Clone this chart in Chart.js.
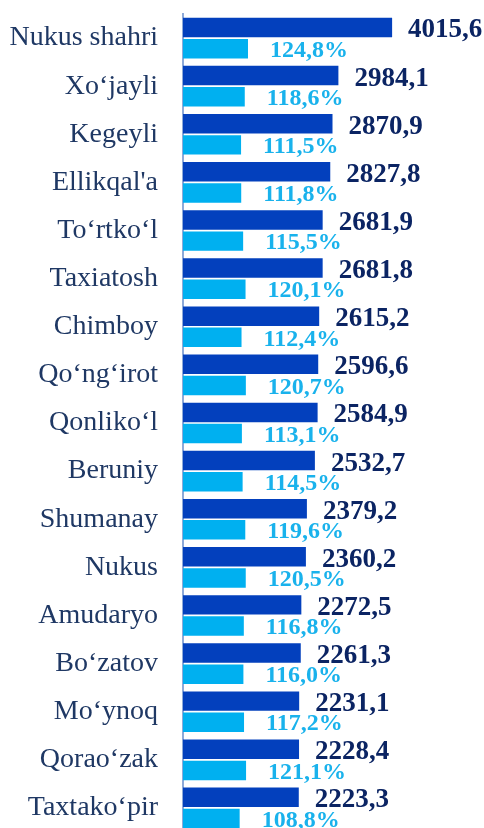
<!DOCTYPE html>
<html>
<head>
<meta charset="utf-8">
<script src="https://cdn.jsdelivr.net/npm/chart.js@4/dist/chart.umd.min.js"></script>
<style>
  html, body { margin: 0; padding: 0; background: #ffffff; overflow: hidden; }
  canvas { display: block; }
</style>
</head>
<body>
<canvas id="c" width="484" height="832"></canvas>
<script>
const categories = ["Nukus shahri", "Xo\u2018jayli", "Kegeyli", "Ellikqal'a", "To\u2018rtko\u2018l", "Taxiatosh", "Chimboy", "Qo\u2018ng\u2018irot", "Qonliko\u2018l", "Beruniy", "Shumanay", "Nukus", "Amudaryo", "Bo\u2018zatov", "Mo\u2018ynoq", "Qorao\u2018zak", "Taxtako\u2018pir"];
const values = [4015.6, 2984.1, 2870.9, 2827.8, 2681.9, 2681.8, 2615.2, 2596.6, 2584.9, 2532.7, 2379.2, 2360.2, 2272.5, 2261.3, 2231.1, 2228.4, 2223.3];
const growth = [124.8, 118.6, 111.5, 111.8, 115.5, 120.1, 112.4, 120.7, 113.1, 114.5, 119.6, 120.5, 116.8, 116.0, 117.2, 121.1, 108.8];

const fmt = v => v.toFixed(1).replace('.', ',');

const labelPlugin = {
  id: 'valueLabels',
  afterDatasetsDraw(chart) {
    const ctx = chart.ctx;
    ctx.save();
    ctx.textAlign = 'left';
    ctx.textBaseline = 'middle';
    chart.data.datasets.forEach((ds, di) => {
      const meta = chart.getDatasetMeta(di);
      meta.data.forEach((el, i) => {
        const v = ds.data[i];
        if (di === 0) {
          ctx.font = 'bold 27px "Liberation Serif"';
          ctx.fillStyle = '#0b2463';
          ctx.fillText(fmt(v), el.x + 16, el.y + 3);
        } else {
          ctx.font = 'bold 24px "Liberation Serif"';
          ctx.fillStyle = '#19b2ec';
          ctx.fillText(fmt(v) + '%', el.x + 22, el.y + 2);
        }
      });
    });
    ctx.restore();
  }
};

new Chart(document.getElementById('c'), {
  type: 'bar',
  data: {
    labels: categories,
    datasets: [
      { data: values, xAxisID: 'x', backgroundColor: '#0340bd', categoryPercentage: 0.88, barPercentage: 0.92 },
      { data: growth, xAxisID: 'x2', backgroundColor: '#00b0f0', categoryPercentage: 0.88, barPercentage: 0.92 }
    ]
  },
  options: {
    indexAxis: 'y',
    responsive: false,
    animation: false,
    layout: { padding: { top: 14, right: 0, bottom: 0, left: 0 } },
    plugins: { legend: { display: false }, tooltip: { enabled: false } },
    scales: {
      x: { display: false, min: 0, max: 5780 },
      x2: { display: false, min: 0, max: 578 },
      y: {
        afterFit(scale) { scale.width = 183; scale.paddingTop = 0; scale.paddingBottom = 0; },
        grid: { display: false },
        border: { display: true, color: '#8eaad8', width: 2 },
        ticks: {
          color: '#1f3864',
          padding: 17,
          font: { family: '"Liberation Serif"', size: 28 }
        }
      }
    }
  },
  plugins: [labelPlugin]
});
</script>
</body>
</html>
